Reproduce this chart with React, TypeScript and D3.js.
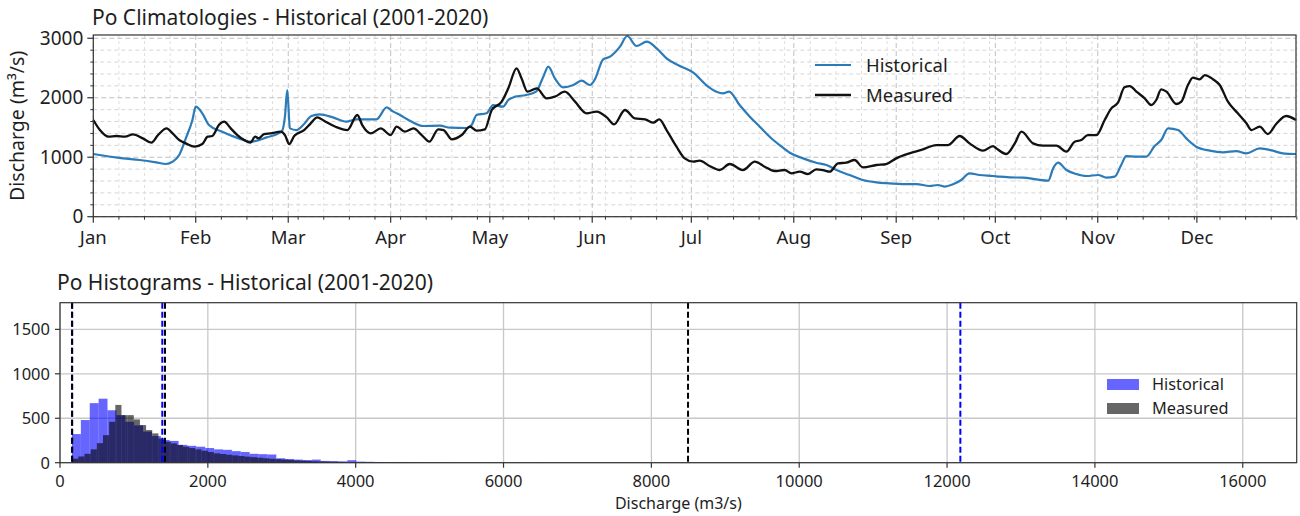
import React from 'react';
import * as d3 from 'd3';

// ---------- data ----------
const monthLabels = ['Jan','Feb','Mar','Apr','May','Jun','Jul','Aug','Sep','Oct','Nov','Dec'];
const monthStarts = [0,31,59,90,120,151,181,212,243,273,304,334];
const yTicksTop = [0,1000,2000,3000];

const histDay = [0,9,14,19,22,24,26,28,30,31,33,35,39,44,47.5,52.5,57,58,58.7,59.5,61.5,63.5,66,68.5,72.5,76.6,79.6,85.7,88.8,90.8,92.8,95.8,99.9,104.9,108,113,114.5,116,119,121,124,125.6,127.6,131,134,136.2,137.7,139.7,142.2,145.3,147.8,150.3,151.8,154.3,156.4,159.4,161.6,164.4,167.5,170.5,173.5,177.5,181.6,185.5,188.6,190.6,192.4,195.6,198.7,201.7,204.7,207.7,210.8,214.8,218.8,221.9,224.9,228.9,232.9,237,241,245,249.1,253.1,255.6,257.7,260.2,262.7,265.2,268.2,272.3,274.3,277.4,281.4,285.4,289,290.5,292,294.5,297.5,300.6,304.1,306.6,309.1,311.1,312.6,315.7,318.7,321.2,323.2,325.3,328.3,330.8,333.8,337.9,341.9,345.9,349,353,357,360,364];
const histQ = [1054,981,953,914,886,925,1037,1317,1625,1850,1738,1541,1429,1317,1261,1334,1429,1681,2130,1485,1457,1541,1693,1721,1670,1598,1637,1637,1838,1766,1710,1614,1525,1530,1497,1491,1541,1710,1738,1878,1850,1962,2018,2046,2102,2354,2522,2326,2175,2214,2287,2214,2309,2646,2691,2859,3038,2870,2943,2831,2663,2534,2422,2214,2102,2074,2102,1878,1682,1513,1345,1205,1076,981,908,869,785,701,617,577,561,549,549,516,533,505,544,617,729,701,684,673,662,656,628,605,813,908,785,717,684,701,656,673,869,1020,1009,1009,1188,1289,1485,1457,1317,1177,1110,1082,1104,1065,1149,1110,1065,1054];

const measDay = [0,2,4.6,7,9.6,12,15,17.6,19.6,22.2,24,26,28,30.6,33,34.6,36,38,39.6,41.6,43.6,45.7,47.5,49,50,51.7,53.7,56.7,58,59.3,60.8,63.8,65.8,67.8,69.8,73.3,76.9,79.9,81.4,84,87,90,91.8,94.3,96.9,99.4,101.7,104.4,106,108.5,111.5,114,116,118.5,120.6,123.6,125.6,128.1,129.6,131.4,134.2,137.2,139.7,142.7,145.8,149.3,152.3,155.4,157.6,160.9,163.9,167,169.5,171.3,173.5,176.5,179,181.6,183.5,186.5,189.6,192.6,196.6,200.2,203.2,206.2,209.2,211.3,213.8,216.3,218.8,220.8,222.9,225.4,227.9,230.4,232.9,237,240,243,247,251.1,255.1,258.7,262.2,265.2,269.3,272.3,273.3,276.3,278.9,280.9,284.4,287.4,291.5,294.5,297,299,301,303.6,306.1,308.1,310.1,312.1,313.7,315.7,318.2,320.2,321.7,323.2,324.8,327.8,329.3,331.3,332.8,334.8,336.4,338.9,340.9,343.4,346.4,349,350.5,353,355.5,358,361,364];
const measQ = [1626,1457,1345,1357,1345,1385,1317,1244,1373,1485,1401,1289,1233,1177,1222,1345,1357,1541,1598,1485,1373,1289,1244,1345,1317,1390,1401,1429,1373,1222,1357,1457,1570,1670,1614,1513,1457,1710,1541,1401,1485,1373,1513,1429,1485,1373,1261,1468,1457,1300,1373,1513,1446,1468,1794,1934,2158,2494,2326,2102,2158,1990,2018,2102,1934,1738,1766,1670,1553,1794,1654,1637,1581,1637,1457,1177,981,925,942,852,785,886,785,925,841,768,785,729,757,717,796,785,757,897,908,953,830,869,886,981,1065,1132,1205,1205,1357,1233,1110,1188,1149,1054,1233,1429,1233,1194,1194,1093,1261,1289,1373,1373,1626,1822,1917,2175,2197,2102,1990,1878,1962,2141,2102,1895,1934,2214,2337,2309,2382,2309,2214,1934,1738,1570,1457,1513,1390,1558,1693,1626];

// histogram: 100 bins each, between min and max of each series
const histRange = [162, 12180];
const histCounts = [322,480,670,720,590,535,460,420,350,300,255,245,200,190,180,165,150,145,130,120,100,96,92,50,42,35,30,35,20,18,15,28,12,10,8,7,8,8,5,4,4,3,3,2,2,2,1,2,1,1,1,0,1,0,0,1,0,0,0,1,0,0,1,0,0,0,0,1,0,0,0,0,0,0,1,0,0,0,0,0,0,0,0,0,0,0,0,0,0,0,0,0,0,0,0,0,0,0,0,1];
const measRange = [165, 8496];
const measCounts = [45,70,100,150,220,310,460,650,535,535,487,423,367,330,273,236,217,200,180,165,150,135,120,105,98,90,82,75,68,62,56,50,44,40,35,30,26,22,19,16,14,12,10,9,8,7,6,5,4,4,3,3,2,2,2,1,2,1,1,1,1,1,0,1,0,1,0,0,1,0,0,1,0,0,0,1,0,0,0,0,0,1,0,0,0,0,0,0,1,0,0,0,0,0,0,0,0,0,0,1];
const histStats = [162, 1384, 12180];
const measStats = [165, 1420, 8496];
const xTicksBottom = [0,2000,4000,6000,8000,10000,12000,14000,16000];
const yTicksBottom = [0,500,1000,1500];

// ---------- layout ----------
const FONT = "'Noto Sans', 'DejaVu Sans', sans-serif";
const T = { left: 93.3, right: 1296, top: 35, bottom: 216.7 };
const B = { left: 60, right: 1296.7, top: 302.7, bottom: 462.7 };
const LINE_BLUE = '#2b7bb9';
const TXT = '#1e1e1e';

export default function App() {
  const x = d3.scaleLinear().domain([0, 364]).range([T.left, T.right]);
  const y = d3.scaleLinear().domain([0, 3055]).range([T.bottom, T.top]);
  const line = d3.line<[number, number]>().x(d => x(d[0])).y(d => y(d[1])).curve(d3.curveMonotoneX);
  const histPts: [number, number][] = histDay.map((d, i) => [d, histQ[i]]);
  const measPts: [number, number][] = measDay.map((d, i) => [d, measQ[i]]);

  const minorX = d3.range(0, 365, 7.75).filter(v => !monthStarts.some(m => Math.abs(m - v) < 0.01));
  const minorY = d3.range(0, 3001, 200).filter(v => v % 1000 !== 0);

  const xb = d3.scaleLinear().domain([0, 16730]).range([B.left, B.right]);
  const yb = d3.scaleLinear().domain([0, 1800]).range([B.bottom, B.top]);

  const bins = (range: number[], counts: number[]) => {
    const w = (range[1] - range[0]) / counts.length;
    return counts.map((c, i) => ({ x0: range[0] + i * w, x1: range[0] + (i + 1) * w, c }));
  };
  const hb = bins(histRange, histCounts);
  const mb = bins(measRange, measCounts);

  return (
    <svg width={1300} height={516} style={{ position: 'absolute', left: 0, top: 0, background: '#fff' }} fontFamily={FONT}>
      <rect width={1300} height={516} fill="#fff" />
      {/* ===== TOP CHART ===== */}
      <text x={92} y={25} fontSize={21} fill={TXT}>Po Climatologies - Historical (2001-2020)</text>
      {/* grids */}
      {minorY.map(v => (
        <line key={'my' + v} x1={T.left} x2={T.right} y1={y(v)} y2={y(v)} stroke="#d6d6d6" strokeWidth={1} strokeDasharray="4,3" />
      ))}
      {minorX.map(v => (
        <line key={'mx' + v} x1={x(v)} x2={x(v)} y1={T.top} y2={T.bottom} stroke="#dedede" strokeWidth={1} strokeDasharray="3,3" />
      ))}
      {yTicksTop.map(v => (
        <line key={'gy' + v} x1={T.left} x2={T.right} y1={y(v)} y2={y(v)} stroke="#c0c0c0" strokeWidth={1} strokeDasharray="5,3" />
      ))}
      {monthStarts.map(v => (
        <line key={'gx' + v} x1={x(v)} x2={x(v)} y1={T.top} y2={T.bottom} stroke="#c0c0c0" strokeWidth={1} strokeDasharray="5,3" />
      ))}
      {/* lines */}
      <path d={line(histPts) || ''} fill="none" stroke={LINE_BLUE} strokeWidth={2.2} />
      <path d={line(measPts) || ''} fill="none" stroke="#111" strokeWidth={2.3} />
      {/* frame */}
      <rect x={T.left} y={T.top} width={T.right - T.left} height={T.bottom - T.top} fill="none" stroke="#333" strokeWidth={1.2} />
      {/* ticks */}
      {monthStarts.map((v, i) => (
        <g key={'xt' + v}>
          <line x1={x(v)} x2={x(v)} y1={T.bottom} y2={T.bottom + 6} stroke="#333" strokeWidth={1.2} />
          <text x={x(v)} y={T.bottom + 27} fontSize={18.5} textAnchor="middle" fill={TXT}>{monthLabels[i]}</text>
        </g>
      ))}
      {minorX.map(v => (
        <line key={'xmt' + v} x1={x(v)} x2={x(v)} y1={T.bottom} y2={T.bottom + 3} stroke="#333" strokeWidth={1} />
      ))}
      {yTicksTop.map(v => (
        <g key={'yt' + v}>
          <line x1={T.left - 6} x2={T.left} y1={y(v)} y2={y(v)} stroke="#333" strokeWidth={1.2} />
          <text x={T.left - 10} y={y(v) + 6.5} fontSize={19} textAnchor="end" fill={TXT}>{v}</text>
        </g>
      ))}
      {minorY.map(v => (
        <line key={'ymt' + v} x1={T.left - 3} x2={T.left} y1={y(v)} y2={y(v)} stroke="#333" strokeWidth={1} />
      ))}
      <text transform={`translate(24,${(T.top + T.bottom) / 2}) rotate(-90)`} fontSize={19.5} textAnchor="middle" fill={TXT}>Discharge (m³/s)</text>
      {/* legend */}
      <line x1={815} x2={851} y1={65} y2={65} stroke={LINE_BLUE} strokeWidth={2.2} />
      <text x={866} y={71.5} fontSize={18.5} fill={TXT}>Historical</text>
      <line x1={815} x2={851} y1={95} y2={95} stroke="#111" strokeWidth={2.3} />
      <text x={866} y={101.5} fontSize={18.5} fill={TXT}>Measured</text>

      {/* ===== BOTTOM CHART ===== */}
      <text x={57} y={290} fontSize={21} fill={TXT}>Po Histograms - Historical (2001-2020)</text>
      {xTicksBottom.map(v => (
        <line key={'bgx' + v} x1={xb(v)} x2={xb(v)} y1={B.top} y2={B.bottom} stroke="#c8c8c8" strokeWidth={1.3} />
      ))}
      {yTicksBottom.map(v => (
        <line key={'bgy' + v} x1={B.left} x2={B.right} y1={yb(v)} y2={yb(v)} stroke="#c8c8c8" strokeWidth={1.3} />
      ))}
      {hb.map((b, i) => b.c > 0 ? (
        <rect key={'hb' + i} x={xb(b.x0)} width={xb(b.x1) - xb(b.x0)} y={yb(b.c)} height={yb(0) - yb(b.c)} fill="blue" fillOpacity={0.6} />
      ) : null)}
      {mb.map((b, i) => b.c > 0 ? (
        <rect key={'mb' + i} x={xb(b.x0)} width={xb(b.x1) - xb(b.x0)} y={yb(b.c)} height={yb(0) - yb(b.c)} fill="black" fillOpacity={0.6} />
      ) : null)}
      {histStats.map((v, i) => (
        <line key={'hs' + i} x1={xb(v)} x2={xb(v)} y1={B.top} y2={B.bottom} stroke="blue" strokeWidth={2} strokeDasharray="6,3" />
      ))}
      {measStats.map((v, i) => (
        <line key={'ms' + i} x1={xb(v)} x2={xb(v)} y1={B.top} y2={B.bottom} stroke="#000" strokeWidth={2} strokeDasharray="6,3" />
      ))}
      <rect x={B.left} y={B.top} width={B.right - B.left} height={B.bottom - B.top} fill="none" stroke="#333" strokeWidth={1.2} />
      {xTicksBottom.map(v => (
        <g key={'bxt' + v}>
          <line x1={xb(v)} x2={xb(v)} y1={B.bottom} y2={B.bottom + 5} stroke="#333" strokeWidth={1.2} />
          <text x={xb(v)} y={B.bottom + 24} fontSize={16.5} textAnchor="middle" fill={TXT}>{v}</text>
        </g>
      ))}
      {yTicksBottom.map(v => (
        <g key={'byt' + v}>
          <line x1={B.left - 5} x2={B.left} y1={yb(v)} y2={yb(v)} stroke="#333" strokeWidth={1.2} />
          <text x={B.left - 10} y={yb(v) + 6} fontSize={16.5} textAnchor="end" fill={TXT}>{v}</text>
        </g>
      ))}
      <text x={(B.left + B.right) / 2} y={509} fontSize={16} textAnchor="middle" fill={TXT}>Discharge (m3/s)</text>
      {/* legend */}
      <rect x={1107} y={379} width={32} height={11} fill="blue" fillOpacity={0.6} />
      <text x={1152} y={390} fontSize={16.3} fill={TXT}>Historical</text>
      <rect x={1107} y={403} width={32} height={11} fill="black" fillOpacity={0.6} />
      <text x={1152} y={414} fontSize={16.3} fill={TXT}>Measured</text>
    </svg>
  );
}
